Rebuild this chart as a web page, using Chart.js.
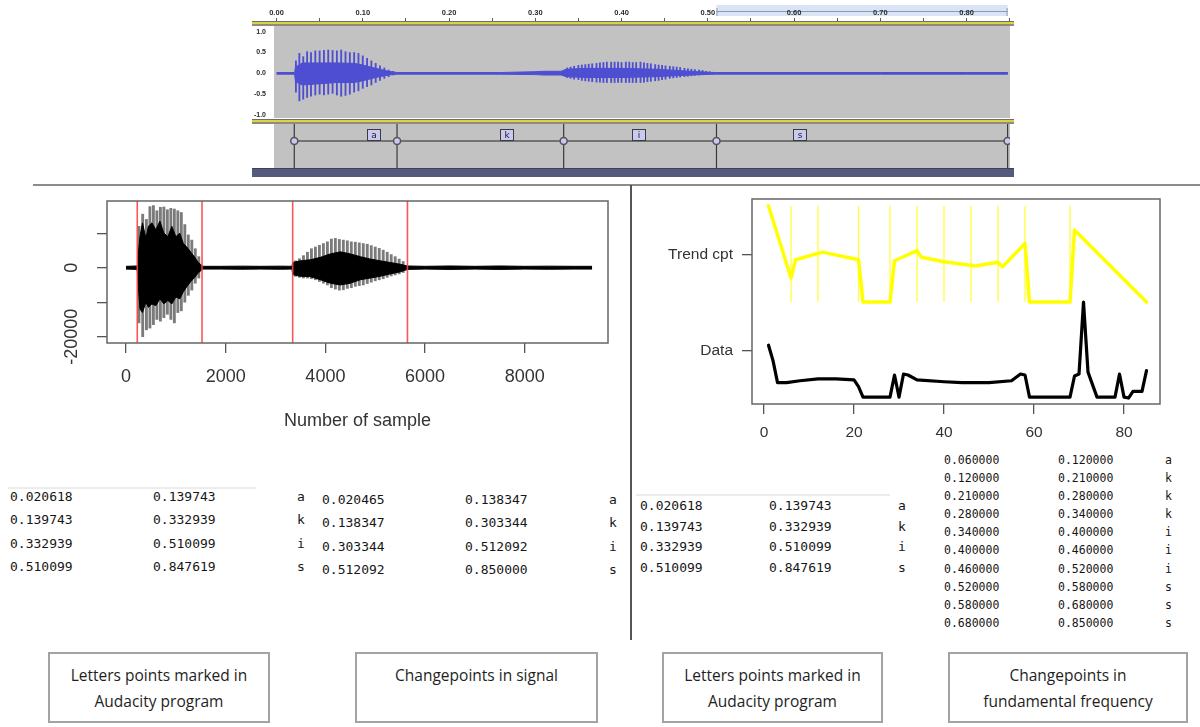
<!DOCTYPE html>
<html>
<head>
<meta charset="utf-8">
<title>Segmentation of the word "akis"</title>
<script src="https://cdn.jsdelivr.net/npm/chart.js@4.4.1/dist/chart.umd.min.js"></script>
<style>
  html, body { margin: 0; padding: 0; background: #fff; }
  body { position: relative; width: 1200px; height: 727px; overflow: hidden; font-family: "Liberation Sans", Arial, sans-serif; }
  canvas { position: absolute; }
  .abs { position: absolute; }
  .band { position: absolute; left: 252px; width: 762px; height: 5px;
          background: linear-gradient(to bottom, #6e6e62 0, #6e6e62 1px, #d9d24c 1px, #d9d24c 3px, #8d8d7c 3px, #8d8d7c 5px); }
  .tbl { position: absolute; font-family: "DejaVu Sans Mono", "Liberation Mono", monospace; color: #161616; white-space: pre; }
  .tbl .row { display: grid; }
  #t1 { left: 10px; top: 485px; font-size: 13px; line-height: 23.3px; }
  #t1 .row { grid-template-columns: 143px 144px 12px; }
  #t2 { left: 322px; top: 488px; font-size: 13px; line-height: 23.3px; }
  #t2 .row { grid-template-columns: 143px 144px 12px; }
  #t3 { left: 640px; top: 496px; font-size: 13px; line-height: 20.5px; }
  #t3 .row { grid-template-columns: 129px 129px 12px; }
  #t4 { left: 944px; top: 451px; font-size: 11.5px; line-height: 18.1px; }
  #t4 .row { grid-template-columns: 114px 107px 10px; }
  .cap { position: absolute; box-sizing: border-box; border: 2px solid #a3a3a3; text-align: center;
         font-family: "Open Sans", "Noto Sans", sans-serif; font-size: 15.5px; line-height: 26px; color: #1e1e1e; padding-top: 8px; }
</style>
</head>
<body>

<!-- Audacity view: waveform track and label track -->
<canvas id="wave" width="762" height="113" style="left:252px;top:5px"></canvas>
<canvas id="tags" width="762" height="44" style="left:252px;top:124px"></canvas>
<div class="band" style="top:21px"></div>
<div class="band" style="top:119px"></div>
<div class="abs" style="left:252px;top:168px;width:762px;height:9px;background:#555a7d;border-top:1px solid #3c405c;box-sizing:border-box"></div>

<!-- separators -->
<div class="abs" style="left:33px;top:184px;width:1167px;height:2px;background:#8c8c8c"></div>
<div class="abs" style="left:630px;top:185px;width:2px;height:455px;background:#555"></div>
<div class="abs" style="left:8px;top:487px;width:248px;height:2px;background:#ececec"></div>
<div class="abs" style="left:636px;top:494px;width:254px;height:2px;background:#ececec"></div>

<!-- R plots -->
<canvas id="signal" width="640" height="255" style="left:0;top:190px"></canvas>
<canvas id="f0" width="560" height="255" style="left:640px;top:190px"></canvas>

<div class="tbl" id="t1"></div>
<div class="tbl" id="t2"></div>
<div class="tbl" id="t3"></div>
<div class="tbl" id="t4"></div>

<div class="cap" id="c1" style="left:48px;top:652px;width:222px;height:71px"></div>
<div class="cap" id="c2" style="left:355px;top:652px;width:243px;height:71px"></div>
<div class="cap" id="c3" style="left:662px;top:652px;width:221px;height:71px"></div>
<div class="cap" id="c4" style="left:948px;top:652px;width:240px;height:71px"></div>

<script>
// ---------- segment tables (start, end, letter) ----------
const audacityRows = [
  ['0.020618', '0.139743', 'a'],
  ['0.139743', '0.332939', 'k'],
  ['0.332939', '0.510099', 'i'],
  ['0.510099', '0.847619', 's']
];
const signalRows = [
  ['0.020465', '0.138347', 'a'],
  ['0.138347', '0.303344', 'k'],
  ['0.303344', '0.512092', 'i'],
  ['0.512092', '0.850000', 's']
];
const f0Rows = [
  ['0.060000', '0.120000', 'a'],
  ['0.120000', '0.210000', 'k'],
  ['0.210000', '0.280000', 'k'],
  ['0.280000', '0.340000', 'k'],
  ['0.340000', '0.400000', 'i'],
  ['0.400000', '0.460000', 'i'],
  ['0.460000', '0.520000', 'i'],
  ['0.520000', '0.580000', 's'],
  ['0.580000', '0.680000', 's'],
  ['0.680000', '0.850000', 's']
];
const captions = [
  ['Letters points marked in', 'Audacity program'],
  ['Changepoints in signal'],
  ['Letters points marked in', 'Audacity program'],
  ['Changepoints in', 'fundamental frequency']
];

const SAMPLE_RATE = 11025;   // samples per second
const FRAME_RATE = 100;      // F0 frames per second

// ---------- Audacity waveform (seconds, normalised amplitude) ----------
const rulerTicks = [0, 0.05, 0.1, 0.15, 0.2, 0.25, 0.3, 0.35, 0.4, 0.45, 0.5, 0.55, 0.6, 0.65, 0.7, 0.75, 0.8, 0.85];
const rulerLabels = ['0.00', '0.10', '0.20', '0.30', '0.40', '0.50', '0.60', '0.70', '0.80'];
const ampTicks = [-1, -0.5, 0, 0.5, 1];
const ampLabels = ['-1.0', '-0.5', '0.0', '0.5', '1.0'];

const auTimes    = [0, 0.021, 0.022, 0.03, 0.05, 0.07, 0.09, 0.10, 0.115, 0.13, 0.14, 0.20, 0.26, 0.30, 0.31, 0.33, 0.336, 0.36, 0.40, 0.44, 0.48, 0.50, 0.51, 0.60, 0.70, 0.80, 0.848];
const auCoreHigh = [0.02, 0.02, 0.15, 0.25, 0.25, 0.25, 0.24, 0.2, 0.12, 0.05, 0.02, 0.02, 0.02, 0.04, 0.05, 0.05, 0.1, 0.12, 0.12, 0.1, 0.05, 0.025, 0.02, 0.02, 0.02, 0.02, 0.02];
const auCoreLow  = [-0.02, -0.02, -0.2, -0.28, -0.25, -0.22, -0.22, -0.18, -0.1, -0.04, -0.02, -0.02, -0.02, -0.03, -0.04, -0.04, -0.08, -0.1, -0.1, -0.08, -0.04, -0.025, -0.02, -0.02, -0.02, -0.02, -0.02];

const auPulseTimes = [
  0.0225, 0.0265, 0.031, 0.0355, 0.040, 0.045, 0.050, 0.055, 0.060, 0.065, 0.070, 0.075,
  0.080, 0.085, 0.090, 0.095, 0.100, 0.105, 0.110, 0.115, 0.120, 0.125, 0.130, 0.135,
  0.337, 0.341, 0.345, 0.350, 0.354, 0.358, 0.362, 0.366, 0.371, 0.375,
  0.379, 0.383, 0.388, 0.392, 0.396, 0.400, 0.405, 0.409, 0.413, 0.417,
  0.422, 0.426, 0.430, 0.434, 0.439, 0.443, 0.447, 0.451, 0.456, 0.460,
  0.464, 0.468, 0.473, 0.477, 0.481, 0.485, 0.490, 0.494, 0.498, 0.502
];
const auPulseLow = [
  -0.45, -0.66, -0.62, -0.58, -0.55, -0.52, -0.50, -0.52, -0.50, -0.48, -0.52, -0.55,
  -0.53, -0.50, -0.45, -0.42, -0.36, -0.32, -0.28, -0.22, -0.17, -0.12, -0.08, -0.04,
  -0.10, -0.12, -0.14, -0.15, -0.17, -0.18, -0.19, -0.20, -0.21, -0.21,
  -0.22, -0.22, -0.22, -0.22, -0.22, -0.22, -0.22, -0.22, -0.22, -0.22,
  -0.22, -0.21, -0.20, -0.19, -0.18, -0.17, -0.15, -0.14, -0.12, -0.11,
  -0.10, -0.09, -0.08, -0.07, -0.06, -0.05, -0.04, -0.03, -0.02, -0.02
];
const auPulseHigh = [
  0.30, 0.48, 0.40, 0.52, 0.50, 0.54, 0.54, 0.55, 0.56, 0.55, 0.54, 0.56,
  0.52, 0.50, 0.50, 0.48, 0.42, 0.36, 0.30, 0.24, 0.18, 0.13, 0.08, 0.05,
  0.13, 0.15, 0.17, 0.19, 0.20, 0.21, 0.22, 0.23, 0.24, 0.25,
  0.26, 0.27, 0.27, 0.27, 0.27, 0.26, 0.27, 0.27, 0.26, 0.26,
  0.27, 0.25, 0.24, 0.23, 0.21, 0.20, 0.19, 0.18, 0.17, 0.16,
  0.15, 0.14, 0.12, 0.11, 0.10, 0.09, 0.08, 0.07, 0.05, 0.04
];

// label track: boundaries come from the Audacity table
const labelBounds = audacityRows.map(r => parseFloat(r[0])).concat([parseFloat(audacityRows[audacityRows.length - 1][1])]);
const labelNames = audacityRows.map(r => r[2]);
const labelAnchors = [0.1125, 0.2667, 0.4197, 0.6075];   // where each tag sits (s)
const selection = [0.510099, 0.847619];

// ---------- signal in samples ----------
const sigXTicks = [0, 2000, 4000, 6000, 8000];
const sigYTicks = [-20000, -10000, 0, 10000];
const sigYLabels = [-20000, 0];

const sigSamples  = [0, 225, 240, 280, 330, 400, 450, 520, 600, 680, 760, 840, 920, 1000, 1080, 1150, 1220, 1300, 1380, 1450, 1500, 1540,
                     1900, 2300, 2700, 3100, 3330, 3344, 3500, 3700, 3900, 4100, 4300, 4500, 4700, 4900, 5100, 5300, 5500, 5646,
                     6000, 6500, 7000, 7500, 8000, 8500, 9000, 9350];
const sigCoreHigh = [400, 500, 3000, 9000, 13000, 8500, 12000, 13000, 11000, 13500, 10000, 9000, 12000, 9000, 10000, 7000, 6000, 4500, 3000, 1500, 900, 400,
                     400, 450, 400, 450, 400, 1500, 2000, 2300, 3000, 4000, 4600, 4000, 3200, 2500, 2000, 1500, 1000, 500,
                     400, 500, 400, 500, 400, 450, 400, 400];
const sigCoreLow  = [-400, -500, -4000, -12000, -13000, -10000, -11500, -10500, -11000, -9000, -10500, -9500, -10500, -8500, -9000, -7000, -5500, -4000, -2800, -1500, -900, -400,
                     -400, -450, -400, -450, -400, -2000, -2500, -2600, -3500, -4500, -5000, -4500, -3500, -3000, -2500, -1800, -1200, -500,
                     -400, -500, -400, -500, -400, -450, -400, -400];

const sigPulseSamples = [
  260, 335, 410, 480, 550, 620, 690, 760, 830, 900, 970, 1040, 1110, 1180, 1250, 1320, 1390, 1460,
  3400, 3480, 3560, 3640, 3720, 3800, 3880, 3960, 4040, 4120, 4200, 4280, 4360, 4440,
  4520, 4600, 4680, 4760, 4840, 4920, 5000, 5080, 5160, 5240, 5320, 5400, 5480, 5560
];
const sigPulseLow = [
  -16000, -20000, -18000, -17500, -16500, -15000, -15500, -14500, -13500, -15000, -16000, -13000, -12500, -10000, -8000, -6500, -4500, -3000,
  -2500, -2800, -3000, -3000, -3200, -3500, -4000, -4500, -5000, -5800, -6200, -6500, -6400, -6000,
  -5800, -5400, -5200, -5000, -4600, -4200, -3800, -3500, -3200, -2800, -2400, -2100, -1800, -1400
];
const sigPulseHigh = [
  12000, 15500, 14000, 17700, 18000, 16500, 17500, 17600, 16800, 17200, 17000, 16500, 16000, 12500, 9500, 8000, 5500, 3200,
  2000, 2600, 3500, 4500, 5500, 6000, 6500, 7000, 7500, 8300, 8500, 8200, 8000, 7800,
  7500, 7400, 7200, 7000, 6800, 6400, 6000, 5600, 5100, 4500, 3800, 3200, 2500, 1800
];
const signalCpts = signalRows.map(r => Math.round(parseFloat(r[0]) * SAMPLE_RATE));

// ---------- fundamental frequency and its trend (stacked rows) ----------
const f0XTicks = [0, 20, 40, 60, 80];
const rowTicks = [0, 1];
const rowLabels = ['Data', 'Trend cpt'];

const f0Index = [1, 2, 3, 5, 8, 12, 16, 20, 21, 22, 28, 29, 30, 31, 32, 34, 40, 44, 50, 55, 57, 58, 59, 68, 69, 70, 71, 72, 74, 78, 79, 80, 81, 82, 84, 85];
const f0Data  = [0.06, -0.1, -0.33, -0.33, -0.31, -0.29, -0.29, -0.30, -0.37, -0.48, -0.48, -0.25, -0.48, -0.24, -0.25, -0.30, -0.32, -0.33, -0.33, -0.31, -0.24, -0.25, -0.48, -0.48, -0.26, -0.24, 0.51, -0.22, -0.48, -0.48, -0.24, -0.48, -0.49, -0.42, -0.42, -0.205];

const trendIndex  = [1, 6, 7, 13, 21, 22, 28, 29, 34, 35, 40, 47, 52, 53, 58, 59, 68, 69, 85];
const trendValues = [1.51, 0.76, 0.95, 1.03, 0.95, 0.51, 0.51, 0.94, 1.045, 0.976, 0.93, 0.885, 0.924, 0.878, 1.12, 0.51, 0.51, 1.26, 0.51];
const trendCpts = f0Rows.map(r => Math.round(parseFloat(r[0]) * FRAME_RATE));

// ---------- tables and captions ----------
function fillTable(id, rows) {
  document.getElementById(id).innerHTML = rows.map(r =>
    '<div class="row"><span>' + r[0] + '</span><span>' + r[1] + '</span><span>' + r[2] + '</span></div>').join('');
}
fillTable('t1', audacityRows);
fillTable('t2', signalRows);
fillTable('t3', audacityRows);
fillTable('t4', f0Rows);
captions.forEach((lines, i) => { document.getElementById('c' + (i + 1)).innerHTML = lines.join('<br>'); });

// ---------- helpers ----------
Chart.defaults.font.family = '"Liberation Sans", Arial, sans-serif';
Chart.defaults.color = '#333';

const pts = (xs, ys) => xs.map((x, i) => ({ x: x, y: ys[i] }));
const spans = (xs, lo, hi) => xs.map((x, i) => ({ x: x, y: [lo[i], hi[i]] }));
const verticals = (xs, y0, y1) => xs.flatMap(x => [{ x: x, y: y0 }, { x: x, y: y1 }, { x: x, y: null }]);
const fixedTicks = vals => scale => { scale.ticks = vals.map(v => ({ value: v })); };
// fixed axis thickness; label overhang must not shrink the plot area
const fixedWidth = w => s => { s.width = w; s.paddingTop = 0; s.paddingBottom = 0; };
const fixedHeight = h => s => { s.height = h; s.paddingLeft = 0; s.paddingRight = 0; };

const panelPlugin = {
  id: 'panel',
  beforeDraw(chart, args, opts) {
    if (!opts.fill) return;
    const { ctx, chartArea: a } = chart;
    ctx.save();
    ctx.fillStyle = opts.fill;
    ctx.fillRect(a.left, a.top, a.right - a.left, a.bottom - a.top);
    ctx.restore();
  },
  afterDraw(chart, args, opts) {
    if (!opts.stroke) return;
    const { ctx, chartArea: a } = chart;
    ctx.save();
    ctx.strokeStyle = opts.stroke;
    ctx.lineWidth = opts.width || 1;
    ctx.strokeRect(a.left, a.top, a.right - a.left, a.bottom - a.top);
    ctx.restore();
  }
};

// highlighted time selection on the ruler
const selectionPlugin = {
  id: 'selection',
  beforeDraw(chart) {
    const { ctx, scales: { x }, chartArea: a } = chart;
    const x0 = x.getPixelForValue(selection[0]);
    const x1 = x.getPixelForValue(selection[1]);
    ctx.save();
    ctx.fillStyle = '#d9e5f6';
    ctx.fillRect(x0, 0, x1 - x0, a.top - 9);
    ctx.strokeStyle = '#8e98ad';
    ctx.lineWidth = 1;
    ctx.beginPath();
    ctx.moveTo(x0, a.top - 13.5); ctx.lineTo(x1, a.top - 13.5);
    ctx.moveTo(x0 + 0.5, a.top - 17); ctx.lineTo(x0 + 0.5, a.top - 9);
    ctx.moveTo(x1 - 0.5, a.top - 17); ctx.lineTo(x1 - 0.5, a.top - 9);
    ctx.stroke();
    ctx.restore();
  }
};

// letter tags of the label track
const tagPlugin = {
  id: 'tagBoxes',
  afterDatasetsDraw(chart) {
    const { ctx, scales: { x }, chartArea: a } = chart;
    ctx.save();
    ctx.font = '9px "DejaVu Sans", sans-serif';
    ctx.textAlign = 'center';
    ctx.textBaseline = 'middle';
    labelNames.forEach((name, i) => {
      const cx = Math.round(x.getPixelForValue(labelAnchors[i]));
      const w = 14, h = 12, top = a.top + 5;
      ctx.fillStyle = '#c9c9f1';
      ctx.fillRect(cx - w / 2, top, w, h);
      ctx.strokeStyle = '#3c3c3c';
      ctx.lineWidth = 1;
      ctx.strokeRect(cx - w / 2 + 0.5, top + 0.5, w - 1, h - 1);
      ctx.fillStyle = '#222';
      ctx.fillText(name, cx, top + h / 2 + 0.5);
    });
    ctx.restore();
  }
};

const base = {
  responsive: false,
  animation: false,
  devicePixelRatio: 1,
  events: []
};
const layoutWith = padding => ({ autoPadding: false, padding: padding });

// ---------- Audacity waveform ----------
const AU_X = [-0.0029, 0.8504];
const WAVE_BLUE = 'rgb(78,78,210)';
new Chart(document.getElementById('wave'), {
  type: 'line',
  data: {
    datasets: [
      { type: 'line', data: pts(auTimes, auCoreHigh), borderColor: WAVE_BLUE, backgroundColor: WAVE_BLUE, borderWidth: 1, fill: '+1', pointRadius: 0, order: 1 },
      { type: 'line', data: pts(auTimes, auCoreLow), borderColor: WAVE_BLUE, borderWidth: 1, fill: false, pointRadius: 0, order: 1 },
      { type: 'bar', data: spans(auPulseTimes, auPulseLow, auPulseHigh), backgroundColor: WAVE_BLUE, barThickness: 1.2, order: 2 }
    ]
  },
  options: Object.assign({}, base, {
    layout: layoutWith({ right: 4 }),
    plugins: { legend: { display: false }, tooltip: { enabled: false }, panel: { fill: '#c2c2c2' } },
    scales: {
      x: {
        type: 'linear', position: 'top', min: AU_X[0], max: AU_X[1], offset: false,
        afterBuildTicks: fixedTicks(rulerTicks),
        afterFit: fixedHeight(20),
        ticks: { autoSkip: false, maxRotation: 0, padding: 1, color: '#2a2a2a', font: { size: 7.5, weight: 'bold' },
                 callback: (v, i) => (i % 2 === 0 && rulerLabels[i / 2]) ? rulerLabels[i / 2] : '' },
        grid: { drawOnChartArea: false, tickLength: 7, color: '#5a5a5a', offset: false },
        border: { display: false }
      },
      y: {
        min: -1.072, max: 1.161,
        afterBuildTicks: fixedTicks(ampTicks),
        afterFit: fixedWidth(22),
        ticks: { autoSkip: false, padding: 8, color: '#2a2a2a', font: { size: 7, weight: 'bold' },
                 callback: (v, i) => ampLabels[i] },
        grid: { display: false, drawTicks: false },
        border: { display: false }
      }
    }
  }),
  plugins: [panelPlugin, selectionPlugin]
});

// ---------- Audacity label track ----------
const TAG_ROW = 0.614;
new Chart(document.getElementById('tags'), {
  type: 'line',
  data: {
    datasets: [
      { data: labelBounds.map(t => ({ x: t, y: TAG_ROW })), showLine: false, pointRadius: 3.5, pointStyle: 'circle',
        pointBackgroundColor: '#c7c9f0', pointBorderColor: '#555', pointBorderWidth: 1.5, order: 0 },
      { data: [{ x: labelBounds[0], y: TAG_ROW }, { x: labelBounds[labelBounds.length - 1], y: TAG_ROW }],
        borderColor: '#595959', borderWidth: 1.6, pointRadius: 0, order: 1 },
      { data: verticals(labelBounds, 0, 1), borderColor: '#3a3a3a', borderWidth: 1.2, pointRadius: 0, spanGaps: false, order: 2 }
    ]
  },
  options: Object.assign({}, base, {
    layout: layoutWith({ left: 22, right: 4 }),
    plugins: { legend: { display: false }, tooltip: { enabled: false }, panel: { fill: '#c2c2c2' } },
    scales: {
      x: { type: 'linear', min: AU_X[0], max: AU_X[1], display: false },
      y: { min: 0, max: 1, display: false }
    }
  }),
  plugins: [panelPlugin, tagPlugin]
});

// ---------- signal with changepoints (samples) ----------
const SIG_Y = [-21826, 19333];
new Chart(document.getElementById('signal'), {
  type: 'line',
  data: {
    datasets: [
      { type: 'line', data: verticals(signalCpts, SIG_Y[0], SIG_Y[1]), borderColor: 'rgba(246,70,70,0.9)', borderWidth: 1.6,
        pointRadius: 0, spanGaps: false, order: 0 },
      { type: 'line', data: pts(sigSamples, sigCoreHigh), borderColor: '#000', backgroundColor: '#000', borderWidth: 1, fill: '+1', pointRadius: 0, order: 1 },
      { type: 'line', data: pts(sigSamples, sigCoreLow), borderColor: '#000', borderWidth: 1, fill: false, pointRadius: 0, order: 1 },
      { type: 'bar', data: spans(sigPulseSamples, sigPulseLow, sigPulseHigh), backgroundColor: '#7b7b7b', barThickness: 2.2, order: 2 }
    ]
  },
  options: Object.assign({}, base, {
    layout: layoutWith({ top: 11, right: 32 }),
    plugins: { legend: { display: false }, tooltip: { enabled: false }, panel: { stroke: '#666', width: 1.5 } },
    scales: {
      x: {
        type: 'linear', min: -381, max: 9669, offset: false,
        afterBuildTicks: fixedTicks(sigXTicks),
        afterFit: fixedHeight(102),
        ticks: { autoSkip: false, maxRotation: 0, padding: 13, color: '#333', font: { size: 18 }, callback: v => String(v) },
        grid: { drawOnChartArea: false, tickLength: 10, color: '#555', lineWidth: 1.3, offset: false },
        border: { display: false },
        title: { display: true, text: 'Number of sample', color: '#333', font: { size: 18 }, padding: { top: 0, bottom: 12.8 } }
      },
      y: {
        min: SIG_Y[0], max: SIG_Y[1],
        afterBuildTicks: fixedTicks(sigYTicks),
        afterFit: fixedWidth(107),
        ticks: { autoSkip: false, minRotation: 90, maxRotation: 90, crossAlign: 'center', padding: -3, color: '#333', font: { size: 18 },
                 callback: v => sigYLabels.includes(v) ? String(v) : '' },
        grid: { drawOnChartArea: false, tickLength: 10, color: '#555', lineWidth: 1.3 },
        border: { display: false }
      }
    }
  }),
  plugins: [panelPlugin]
});

// ---------- F0 data and trend changepoints ----------
const trendLow = Math.min(...trendValues);
const trendHigh = Math.max(...trendValues);
new Chart(document.getElementById('f0'), {
  type: 'line',
  data: {
    datasets: [
      { data: pts(trendIndex, trendValues), borderColor: '#ffff00', borderWidth: 3.5, pointRadius: 0,
        borderJoinStyle: 'round', borderCapStyle: 'round', order: 0 },
      { data: verticals(trendCpts, trendLow, trendHigh), borderColor: '#ffff3a', borderWidth: 1.3, pointRadius: 0, spanGaps: false, order: 1 },
      { data: pts(f0Index, f0Data), borderColor: '#000', borderWidth: 3.2, pointRadius: 0,
        borderJoinStyle: 'round', borderCapStyle: 'round', order: 2 }
    ]
  },
  options: Object.assign({}, base, {
    layout: layoutWith({ top: 9, right: 40 }),
    plugins: { legend: { display: false }, tooltip: { enabled: false }, panel: { stroke: '#666', width: 1.5 } },
    scales: {
      x: {
        type: 'linear', min: -2.67, max: 88, offset: false,
        afterBuildTicks: fixedTicks(f0XTicks),
        afterFit: fixedHeight(41),
        ticks: { autoSkip: false, maxRotation: 0, padding: 9.7, color: '#333', font: { size: 15.5 }, callback: v => String(v) },
        grid: { drawOnChartArea: false, tickLength: 10, color: '#555', lineWidth: 1.3 },
        border: { display: false }
      },
      y: {
        min: -0.552, max: 1.583,
        afterBuildTicks: fixedTicks(rowTicks),
        afterFit: fixedWidth(112),
        ticks: { autoSkip: false, padding: 9, color: '#333', font: { size: 15.5 }, callback: (v, i) => rowLabels[i] },
        grid: { drawOnChartArea: false, tickLength: 10, color: '#555', lineWidth: 1.3 },
        border: { display: false }
      }
    }
  }),
  plugins: [panelPlugin]
});
</script>
</body>
</html>
